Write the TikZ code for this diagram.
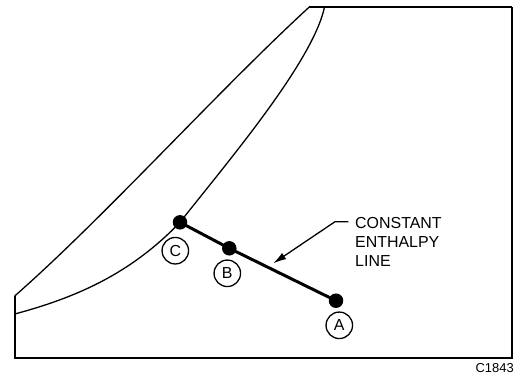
\documentclass[tikz,border=0pt]{standalone}
\usepackage{fontspec}
\setmainfont{Liberation Sans}
\usetikzlibrary{arrows.meta}
\begin{document}
\begin{tikzpicture}[x=1bp,y=-1bp,
  frameline/.style={line width=1.8bp},
  curveline/.style={line width=1.3bp},
  dotnode/.style={circle,fill=black,inner sep=0pt,minimum size=14.5bp},
  tagnode/.style={circle,draw,line width=1.3bp,inner sep=0pt,minimum size=26.5bp,font=\fontsize{16}{18}\selectfont},
  txt/.style={anchor=base west,inner sep=0pt,font=\fontsize{16}{18.7}\selectfont}]
\useasboundingbox (0,0) rectangle (520,380);
% frame
\draw[frameline,line join=miter] (14.7,296) -- (14.7,358) -- (511.7,358) -- (511.7,7);
\draw[curveline] (309.3,7) -- (511.7,7);
% outer curve
\draw[curveline] (14.7,296) .. controls (105,216.7) and (219,89.8) .. (309.3,7);
% inner curve
\draw[curveline] (14.7,314) .. controls (75,297.8) and (130,274.5) .. (180,222.3)
  .. controls (225,165) and (313,62) .. (324.5,7);
% dots
\node[dotnode] (C) at (180,222.3) {};
\node[dotnode] (B) at (229.3,248.3) {};
\node[dotnode] (A) at (336,300.7) {};
\draw[line width=3bp] (C.center) -- (B.center) -- (A.center);
% tags
\node[tagnode] (tC) at (175.3,250.7) {C};
\node[tagnode] (tB) at (227.3,273.3) {B};
\node[tagnode] (tA) at (339.3,325.3) {A};
% label
\node[txt] (l1) at (355,228.3) {CONSTANT};
\node[txt] (l2) at (355,247.5) {ENTHALPY};
\node[txt] (l3) at (355,266) {LINE};
\coordinate (as) at (348.3,221.7);
\coordinate (ab) at (335,221.7);
\coordinate (at) at (273.3,263.3);
\draw[line width=1.3bp,-{Latex[length=13bp,width=7.5bp]}] (as) -- (ab) -- (at);
% code
\node[anchor=base east,inner sep=0pt,font=\fontsize{13}{15}\selectfont] (code) at (514,372.7) {C1843};
\end{tikzpicture}
\end{document}
